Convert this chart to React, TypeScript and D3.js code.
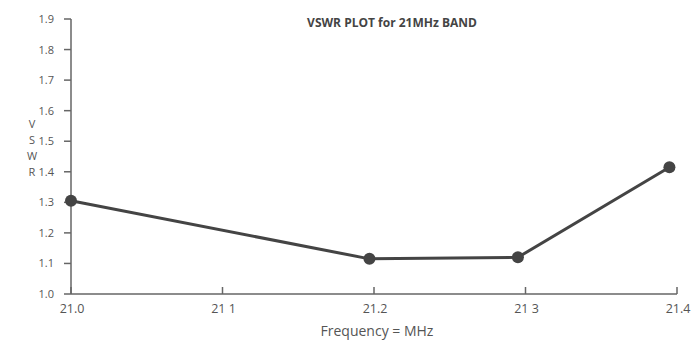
import React from "react";
import * as d3 from "d3";

const freqs = [21.0, 21.197, 21.295, 21.395];
const vswr = [1.305, 1.115, 1.12, 1.415];
const xTicks = [21.0, 21.1, 21.2, 21.3, 21.4];
const xTickLabels = ["21.0", "21 1", "21.2", "21 3", "21.4"];
const yTicks = [1.0, 1.1, 1.2, 1.3, 1.4, 1.5, 1.6, 1.7, 1.8, 1.9];
const title = "VSWR PLOT for 21MHz BAND";
const xTitle = "Frequency = MHz";
const yTitleLetters = ["V", "S", "W", "R"];

export default function App() {
  const W = 694, H = 345;
  const x = d3.scaleLinear().domain([21.0, 21.4]).range([71, 677]);
  const y = d3.scaleLinear().domain([1.0, 1.9]).range([294, 19]);
  const line = d3.line<number>().x((_, i) => x(freqs[i])).y((d) => y(d));
  const font = "'Open Sans', 'DejaVu Sans', sans-serif";
  const textCol = "#555";
  const axisCol = "#666";
  return (
    <svg width={W} height={H} style={{ position: "absolute", left: 0, top: 0, background: "#fff" }} fontFamily={font}>
      <rect width={W} height={H} fill="#fff" />
      <text x={392} y={27} textAnchor="middle" fontSize={12} fontWeight="bold" fill="#444">{title}</text>
      {/* y axis */}
      <line x1={x(21.0)} x2={x(21.0)} y1={y(1.9)} y2={y(1.0)} stroke={axisCol} strokeWidth={1.5} />
      {yTicks.map((t) => (
        <g key={t}>
          <line x1={x(21.0) - 7} x2={x(21.0)} y1={y(t)} y2={y(t)} stroke={axisCol} strokeWidth={1.5} />
          <text x={54} y={y(t) + 4} textAnchor="end" fontSize={11} fill={textCol}>{t.toFixed(1)}</text>
        </g>
      ))}
      {/* x axis */}
      <line x1={x(21.0)} x2={x(21.4)} y1={y(1.0)} y2={y(1.0)} stroke={axisCol} strokeWidth={1.5} />
      {xTicks.map((t, i) => (
        <g key={t}>
          <line x1={x(t)} x2={x(t)} y1={y(1.0)} y2={y(1.0) - 7} stroke={axisCol} strokeWidth={1.5} />
          <text x={x(t) + 1} y={313} textAnchor="middle" fontSize={12.5} fill={textCol}>{xTickLabels[i]}</text>
        </g>
      ))}
      <text x={377} y={336} textAnchor="middle" fontSize={14} fill={textCol}>{xTitle}</text>
      {yTitleLetters.map((l, i) => (
        <text key={l} x={32} y={128 + i * 16} textAnchor="middle" fontSize={11} fill={textCol}>{l}</text>
      ))}
      <path d={line(vswr) || ""} fill="none" stroke="#444" strokeWidth={3} />
      {vswr.map((v, i) => (
        <circle key={i} cx={x(freqs[i])} cy={y(v)} r={6} fill="#444" />
      ))}
    </svg>
  );
}
